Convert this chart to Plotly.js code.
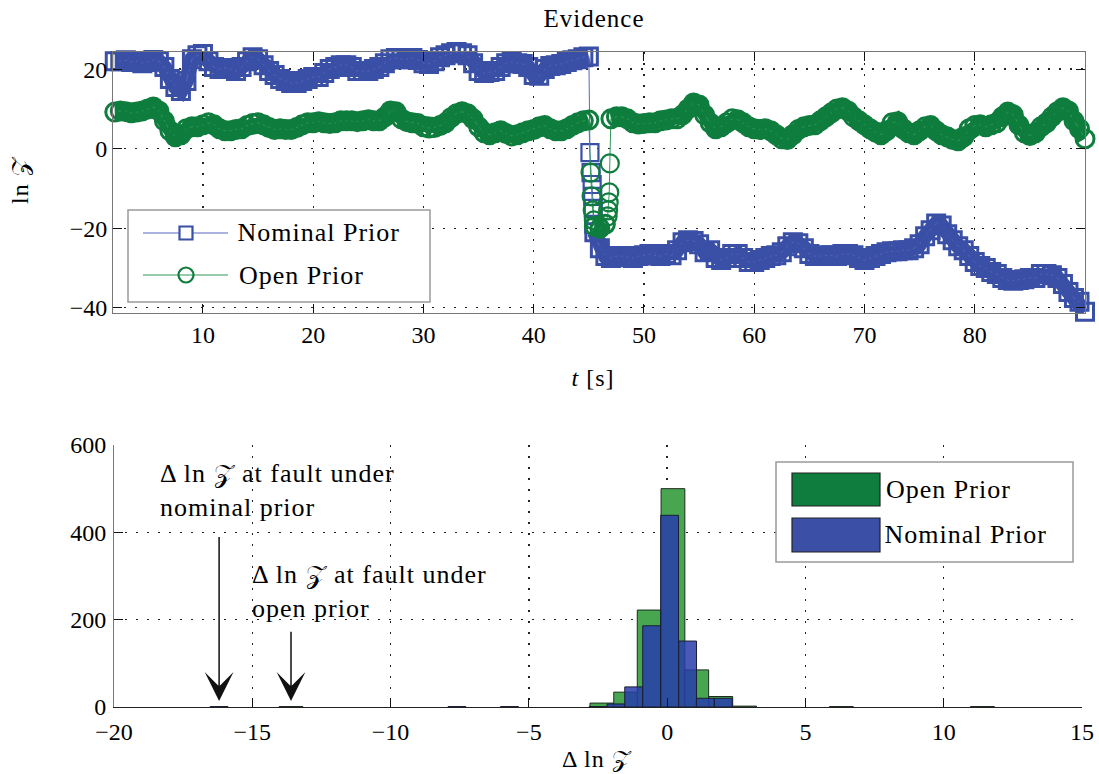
<!DOCTYPE html>
<html>
<head>
<meta charset="utf-8">
<script src="https://cdn.plot.ly/plotly-3.0.1.min.js"></script>
<style>
  html, body { margin: 0; padding: 0; background: #fff; }
  #chart { width: 1099px; height: 774px; }
  #chart .annotation-text, #chart .gtitle { letter-spacing: 1px; }
</style>
</head>
<body>
<div id="chart"></div>
<script>
// ---- Evidence ln Z over time, sampled every 0.5 s from t = 2 s to t = 90 s ----
const tStart = 2;
const tStep = 0.5;

const nominalLnZ = [
  22, 22, 22.2, 21.8, 22, 21.5, 21.8, 22.3, 22, 20.5,
  17.5, 15.5, 14.5, 17, 22.5, 23.5, 23.8, 22, 20.5, 20,
  20.3, 20, 19.5, 20.5, 22, 23, 22.5, 21, 19.5, 18.5,
  17.5, 17, 16.5, 16.5, 17, 17.5, 18, 18, 19, 20,
  20.5, 21, 21, 20.5, 19.5, 19.5, 19.5, 20, 20.5, 21.5,
  22.5, 22.8, 22.5, 22.5, 22.8, 22.3, 21.5, 21.3, 22, 23,
  23.5, 24, 24.3, 24, 23.5, 21.5, 19.5, 19, 19.3, 19.5,
  20.5, 21.5, 21.8, 21.5, 21.3, 20.5, 18.5, 18.3, 20, 20.8,
  21, 21.3, 21.8, 22.2, 22.5, 23, 23.2, -21, -25, -27,
  -27.5, -27, -27, -27.3, -27.5, -27, -26.8, -26.5, -26.8, -27,
  -26.5, -26.8, -25.5, -23.5, -23, -23.2, -24, -26, -25.5, -27.5,
  -28, -27.5, -26.5, -26.5, -27.5, -28.5, -28.5, -28, -27.5, -27,
  -26.8, -26, -24.5, -23.5, -23.8, -25, -26.5, -27, -27, -26.8,
  -26.8, -27, -26.5, -26.5, -26.8, -27.5, -28, -27.5, -27, -26.5,
  -26, -25.8, -25.8, -25.5, -25.5, -25, -24, -22, -20.5, -18.8,
  -19.3, -21.5, -23, -24.5, -25.5, -27, -28.5, -29.5, -30, -31,
  -31.5, -32.5, -33, -33.2, -33, -32.8, -32.5, -32.5, -31.5, -31.5,
  -31.8, -32.5, -34, -36, -37.5, -38.5, -41
];

const openLnZ = [
  9.2, 9.5, 9.3, 9, 9.2, 9.5, 10, 10.5, 9.5, 7,
  4.5, 3, 3.5, 5, 5.5, 5.5, 6, 6.5, 6, 5,
  4.5, 4.5, 4.8, 5, 5.8, 6.3, 6.5, 6, 5.3, 4.8,
  5, 4.8, 4.8, 5.3, 6, 6.5, 6.5, 6.8, 6.5, 6.3,
  6.5, 7, 7, 7, 6.8, 7, 7.3, 7, 7, 8,
  9.5, 9.3, 7.5, 6.8, 6.5, 6.3, 5.5, 5.2, 5.3, 5.8,
  6.5, 7.8, 8.8, 9.3, 8.8, 7.5, 5.5, 4, 3.5, 4,
  4.5, 3.8, 3.2, 3.5, 4, 4.5, 4.8, 5.5, 5.8, 5,
  4.5, 4.5, 5, 5.8, 6.5, 7, 7.2, -19.5, -20, -19,
  7.5, 8, 8, 7.5, 6.5, 6.2, 6.3, 6.5, 6.5, 7,
  7.2, 7.5, 7.5, 8.5, 10, 11.5, 11, 8.5, 6.5, 5,
  5.5, 6.5, 7.5, 7.3, 6.5, 5.5, 5, 4.8, 5, 4.5,
  3.5, 2.5, 2.3, 3.5, 4.8, 5.5, 5.8, 6, 7, 8,
  9, 10, 10.3, 9.5, 8, 7, 6, 5, 4.2, 3.5,
  4.5, 6.5, 6.8, 5, 4, 3.5, 4.5, 5.5, 5.8, 4.5,
  3.5, 3, 2.3, 2, 3, 5, 5.8, 6, 5.5, 6,
  6.5, 8, 9.2, 8.5, 6, 4, 3.3, 4, 5.5, 6.5,
  8, 9.3, 10.3, 9.5, 7, 5, 2.5
];

// extra samples logged around the fault
const nominalFaultT   = [45.1, 45.2, 45.3, 45.35, 45.4, 45.45];
const nominalFaultLnZ = [-1, -6, -9, -12, -15, -19];
const openFaultT   = [45.15, 45.25, 45.35, 45.45, 46.7, 46.75, 46.8, 46.85, 46.9];
const openFaultLnZ = [-6, -12, -15.5, -18, -17, -15.5, -13.5, -11, -3.7];

// ---- Histogram of Δ ln Z ----
const openBinWidth = 0.86;
const openBinCenters = [-13.6, -2.36, -1.50, -0.65, 0.21, 1.07, 1.94, 2.80, 6.3, 11.4];
const openCounts     = [1, 9, 34, 222, 500, 85, 24, 2, 1, 1];

const nominalBinWidth = 0.645;
const nominalBinCenters = [-16.2, -7.6, -5.7, -2.50, -1.85, -1.21, -0.56, 0.09, 0.74, 1.38, 2.03];
const nominalCounts     = [1, 1, 1, 1, 7, 46, 186, 439, 151, 20, 20];

// Δ ln Z at the fault for each prior (arrow targets)
const faultDeltaNominal = nominalBinCenters[0];
const faultDeltaOpen = openBinCenters[0];

const timeTicks = [10, 20, 30, 40, 50, 60, 70, 80];
const lnZTicks = [-40, -20, 0, 20];
const deltaTicks = [-20, -15, -10, -5, 0, 5, 10, 15];
const countTicks = [0, 200, 400, 600];

// ---------------------------------------------------------------
// merge the regular samples with the fault samples, ordered by time;
// fault samples get a thinner marker outline
function buildSeries(values, extraT, extraV, bandWidth, faultWidth) {
  const pts = values.map((v, i) => [tStart + i * tStep, v, bandWidth]);
  extraT.forEach((t, i) => pts.push([t, extraV[i], faultWidth]));
  pts.sort((a, b) => a[0] - b[0]);
  return { x: pts.map(p => p[0]), y: pts.map(p => p[1]), w: pts.map(p => p[2]) };
}

// regular samples only, broken wherever ln Z jumps by more than 10 between
// neighbours: this is the dense body of the marker band
function bandSeries(values) {
  const x = [], y = [];
  values.forEach((v, i) => {
    if (i > 0 && Math.abs(v - values[i - 1]) > 10) { x.push(null); y.push(null); }
    x.push(tStart + i * tStep); y.push(v);
  });
  return { x, y };
}

const nominal = buildSeries(nominalLnZ, nominalFaultT, nominalFaultLnZ, 3, 2.2);
const open = buildSeries(openLnZ, openFaultT, openFaultLnZ, 3, 2.2);
const nominalBand = bandSeries(nominalLnZ);
const openBand = bandSeries(openLnZ);

const BLUE = '#3a4fa6';
const GREEN = '#0e7d3d';
const serif = 'Liberation Serif, Times New Roman, serif';
const TXT = 26;

// plot area in pixels: left 113, right 1085, top 52, bottom 707
const L = 113, W = 972, B = 707, H = 655;
const px = p => (p - L) / W;
const py = p => (B - p) / H;

const traces = [
  {
    type: 'scatter', mode: 'lines', xaxis: 'x', yaxis: 'y', cliponaxis: false,
    x: nominalBand.x, y: nominalBand.y, connectgaps: false,
    line: { color: BLUE, width: 15 }
  },
  {
    type: 'scatter', mode: 'lines+markers', xaxis: 'x', yaxis: 'y',
    x: nominal.x, y: nominal.y, cliponaxis: false,
    line: { color: '#5466c2', width: 1 },
    marker: { symbol: 'square-open', size: 17, color: BLUE, line: { width: nominal.w } }
  },
  {
    type: 'scatter', mode: 'lines', xaxis: 'x', yaxis: 'y', cliponaxis: false,
    x: openBand.x, y: openBand.y, connectgaps: false,
    line: { color: GREEN, width: 16 }
  },
  {
    type: 'scatter', mode: 'lines+markers', xaxis: 'x', yaxis: 'y',
    x: open.x, y: open.y, cliponaxis: false,
    line: { color: '#2f9a58', width: 1 },
    marker: { symbol: 'circle-open', size: 18, color: GREEN, line: { width: open.w } }
  },
  {
    type: 'bar', xaxis: 'x2', yaxis: 'y2',
    x: openBinCenters, y: openCounts, width: openBinWidth,
    marker: { color: 'rgb(72,166,80)', line: { color: '#1d2a1d', width: 1 } }
  },
  {
    type: 'bar', xaxis: 'x2', yaxis: 'y2',
    x: nominalBinCenters, y: nominalCounts, width: nominalBinWidth,
    marker: { color: 'rgba(40,60,170,0.85)', line: { color: '#1a1f33', width: 1 } }
  }
];

const axisBase = {
  showline: true, linecolor: '#777', linewidth: 1,
  ticks: 'inside', ticklen: 9, tickwidth: 1, tickcolor: '#111',
  showgrid: true, gridcolor: '#222', gridwidth: 1.3, griddash: '2px,9px',
  zeroline: false, tickmode: 'array',
  tickfont: { family: serif, size: 24, color: '#000' }
};

const shapes = [];
const annotations = [];
const textFont = { family: serif, size: TXT, color: '#000' };

// legend of the evidence panel
shapes.push({ type: 'rect', xref: 'paper', yref: 'paper', x0: px(128), x1: px(430), y0: py(302), y1: py(210),
  line: { color: '#9a9a9a', width: 1.5 }, fillcolor: '#fff' });
shapes.push({ type: 'line', xref: 'paper', yref: 'paper', x0: px(143), x1: px(228), y0: py(233), y1: py(233),
  line: { color: '#5466c2', width: 1.2 } });
shapes.push({ type: 'rect', xref: 'paper', yref: 'paper', x0: px(179.5), x1: px(192.5), y0: py(239.5), y1: py(226.5),
  line: { color: BLUE, width: 2.2 }, fillcolor: '#fff' });
shapes.push({ type: 'line', xref: 'paper', yref: 'paper', x0: px(143), x1: px(228), y0: py(275), y1: py(275),
  line: { color: '#2f9a58', width: 1.2 } });
shapes.push({ type: 'circle', xref: 'paper', yref: 'paper', x0: px(178.5), x1: px(193.5), y0: py(282.5), y1: py(267.5),
  line: { color: GREEN, width: 2.2 }, fillcolor: 'rgba(0,0,0,0)' });
annotations.push({ xref: 'paper', yref: 'paper', x: px(242), y: py(233), xanchor: 'left', yanchor: 'middle',
  text: 'Nominal Prior', showarrow: false, font: textFont });
annotations.push({ xref: 'paper', yref: 'paper', x: px(242), y: py(275), xanchor: 'left', yanchor: 'middle',
  text: 'Open Prior', showarrow: false, font: textFont });

// legend of the histogram panel
shapes.push({ type: 'rect', xref: 'paper', yref: 'paper', x0: px(776), x1: px(1073), y0: py(562), y1: py(462),
  line: { color: '#9a9a9a', width: 1.5 }, fillcolor: '#fff' });
shapes.push({ type: 'rect', xref: 'paper', yref: 'paper', x0: px(792), x1: px(880), y0: py(506), y1: py(473),
  line: { color: '#222', width: 1.2 }, fillcolor: GREEN });
shapes.push({ type: 'rect', xref: 'paper', yref: 'paper', x0: px(792), x1: px(880), y0: py(552), y1: py(518),
  line: { color: '#222', width: 1.2 }, fillcolor: '#3a4fa5' });
annotations.push({ xref: 'paper', yref: 'paper', x: px(889), y: py(489), xanchor: 'left', yanchor: 'middle',
  text: 'Open Prior', showarrow: false, font: textFont });
annotations.push({ xref: 'paper', yref: 'paper', x: px(889), y: py(534), xanchor: 'left', yanchor: 'middle',
  text: 'Nominal Prior', showarrow: false, font: textFont });

// axis titles
annotations.push({ xref: 'paper', yref: 'paper', x: px(20), y: py(180), textangle: -90,
  xanchor: 'center', yanchor: 'middle', showarrow: false,
  text: 'ln 𝒵', font: { family: serif, size: 24, color: '#000' } });
annotations.push({ xref: 'paper', yref: 'paper', x: px(593), y: py(378),
  xanchor: 'center', yanchor: 'middle', showarrow: false,
  text: '<i>t</i> [s]', font: { family: serif, size: 24, color: '#000' } });
annotations.push({ xref: 'paper', yref: 'paper', x: px(597), y: py(759),
  xanchor: 'center', yanchor: 'middle', showarrow: false,
  text: 'Δ ln 𝒵', font: { family: serif, size: 24, color: '#000' } });

// fault callouts in the histogram
annotations.push({ xref: 'paper', yref: 'paper', x: px(158), y: py(490), xanchor: 'left', yanchor: 'middle',
  align: 'left', showarrow: false, text: 'Δ ln 𝒵 at fault under<br>nominal prior', font: textFont });
annotations.push({ xref: 'paper', yref: 'paper', x: px(250), y: py(591), xanchor: 'left', yanchor: 'middle',
  align: 'left', showarrow: false, text: 'Δ ln 𝒵 at fault under<br>open prior', font: textFont });
annotations.push({ xref: 'x2', yref: 'y2', axref: 'x2', ayref: 'y2',
  x: faultDeltaNominal, y: 14, ax: faultDeltaNominal, ay: 393, text: '',
  showarrow: true, arrowhead: 3, arrowsize: 3.2, arrowwidth: 1.5, arrowcolor: '#111', standoff: 0 });
annotations.push({ xref: 'x2', yref: 'y2', axref: 'x2', ayref: 'y2',
  x: faultDeltaOpen, y: 14, ax: faultDeltaOpen, ay: 176, text: '',
  showarrow: true, arrowhead: 3, arrowsize: 3.2, arrowwidth: 1.5, arrowcolor: '#111', standoff: 0 });

const layout = {
  width: 1099, height: 774,
  margin: { l: L, r: 1099 - L - W, t: 52, b: 774 - B },
  paper_bgcolor: '#fff', plot_bgcolor: '#fff',
  showlegend: false,
  barmode: 'overlay',
  title: {
    text: 'Evidence', xref: 'container', yref: 'container',
    x: 594 / 1099, xanchor: 'center', y: 1 - 18 / 774, yanchor: 'middle',
    font: { family: serif, size: 25, color: '#000' }
  },
  xaxis: Object.assign({}, axisBase, {
    anchor: 'y', domain: [0, 1], range: [1.84, 90], tickvals: timeTicks, mirror: 'ticks'
  }),
  yaxis: Object.assign({}, axisBase, {
    anchor: 'x', domain: [py(313), 1], range: [-41.3, 24.3], tickvals: lnZTicks, mirror: 'ticks'
  }),
  xaxis2: Object.assign({}, axisBase, {
    anchor: 'y2', domain: [px(114), px(1082)], range: [-20, 15], tickvals: deltaTicks,
    linecolor: '#222', ticklabelstandoff: 3
  }),
  yaxis2: Object.assign({}, axisBase, {
    anchor: 'x2', domain: [0, py(445)], range: [0, 600], tickvals: countTicks, ticklabelstandoff: 2
  }),
  shapes: shapes,
  annotations: annotations
};

Plotly.newPlot('chart', traces, layout, { displayModeBar: false, staticPlot: true });
</script>
</body>
</html>
